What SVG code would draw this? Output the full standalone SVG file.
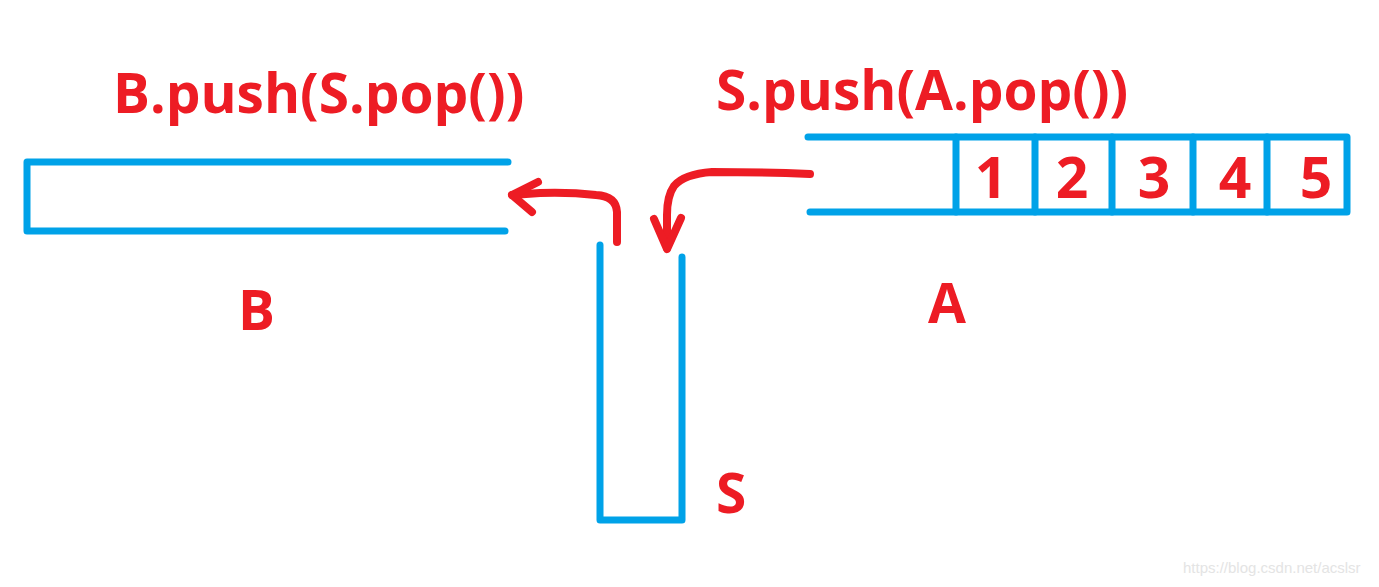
<svg xmlns="http://www.w3.org/2000/svg" width="1379" height="587" viewBox="0 0 1379 587">
<style>
.box{fill:none;stroke:#00a2e8;stroke-width:7;stroke-linecap:round;stroke-linejoin:round}
.arr{fill:none;stroke:#ed1c24;stroke-width:8;stroke-linecap:round;stroke-linejoin:round}
.t{font-family:"Open Sans","Noto Sans","Liberation Sans",sans-serif;font-weight:bold;fill:#ed1c24}
.d{font-size:57px;text-anchor:middle}
</style>
<rect width="1379" height="587" fill="#ffffff"/>
<g id="title-b"><text class="t" x="113" y="113" font-size="55">B.push(S.pop())</text></g>
<g id="title-s"><text class="t" x="716" y="110" font-size="55">S.push(A.pop())</text></g>
<g id="stack-B">
<polyline class="box" points="508,162 27,162 27,231 505,231"/>
<text class="t" x="238" y="330" font-size="55">B</text>
</g>
<g id="stack-A">
<polyline class="box" points="808,137 1347,137 1347,212 810,212"/>
<line class="box" x1="956" y1="137" x2="956" y2="212"/>
<line class="box" x1="1035" y1="137" x2="1035" y2="212"/>
<line class="box" x1="1112" y1="137" x2="1112" y2="212"/>
<line class="box" x1="1193" y1="137" x2="1193" y2="212"/>
<line class="box" x1="1267" y1="137" x2="1267" y2="212"/>
<text class="t d" x="991" y="198">1</text>
<text class="t d" x="1072" y="198">2</text>
<text class="t d" x="1154" y="198">3</text>
<text class="t d" x="1235" y="198">4</text>
<text class="t d" x="1316" y="198">5</text>
<text class="t" x="928" y="323" font-size="55">A</text>
</g>
<g id="stack-S">
<polyline class="box" points="600,245 600,520 682,520 682,257"/>
<text class="t" x="716" y="513" font-size="55">S</text>
</g>
<g id="connectors">
<path class="arr" d="M617,242 L617,212 Q616,196 596,195 Q570,192 540,193 L512,195"/>
<polyline class="arr" points="538,182 512,195 532,212"/>
<path class="arr" d="M810,174 Q760,172 712,172 Q684,174 674,186 Q667,196 667,215 L667,248"/>
<polyline class="arr" points="654,219 667,249 681,218"/>
</g>
<text x="1183" y="573" font-family="Liberation Sans,Arial,sans-serif" font-size="15" fill="#e4e4e4">https://blog.csdn.net/acslsr</text>
</svg>
